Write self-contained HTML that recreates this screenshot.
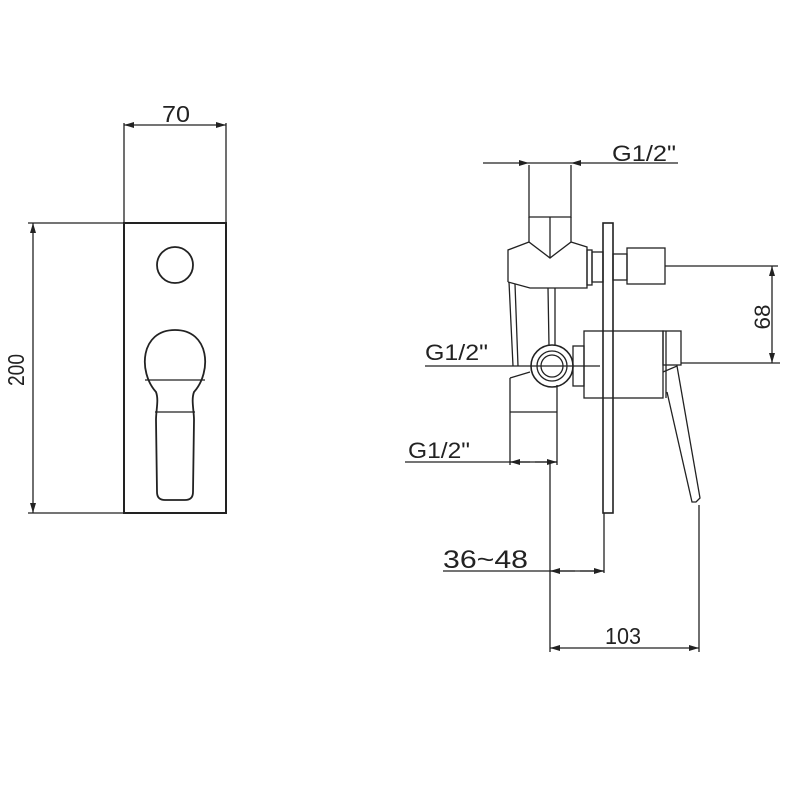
<!DOCTYPE html>
<html><head><meta charset="utf-8"><style>
html,body{margin:0;padding:0;background:#fff;}
svg{display:block;}
text{font-family:"Liberation Sans",sans-serif;fill:#222;}
</style></head><body>
<svg width="800" height="800" viewBox="0 0 800 800" xmlns="http://www.w3.org/2000/svg">
<defs>
<marker id="a" viewBox="0 0 10 6" refX="10" refY="3" markerWidth="14" markerHeight="6" markerUnits="userSpaceOnUse" orient="auto-start-reverse"><path d="M0,0 L10,3 L0,6 z" fill="#222"/></marker>
</defs>
<g stroke="#222" fill="none" stroke-width="1.3">
<rect x="124" y="223" width="102" height="290" stroke-width="2"/>
<circle cx="175" cy="265" r="18" stroke-width="1.8"/>
<path d="M156,392 C138,372 140,330 175,330 C210,330 212,372 194,392 C191,400 194,410 194,420 L193,492 Q193,500 185,500 L165,500 Q157,500 157,492 L156,420 C156,410 159,400 156,392 Z" stroke-width="1.8"/>
<line x1="145" y1="380" x2="205" y2="380"/>
<line x1="155" y1="412" x2="195" y2="412"/>
<line x1="124" y1="123" x2="124" y2="223"/>
<line x1="226" y1="123" x2="226" y2="223"/>
<line x1="124" y1="125" x2="226" y2="125" marker-start="url(#a)" marker-end="url(#a)"/>
<line x1="28" y1="223" x2="124" y2="223"/>
<line x1="28" y1="513" x2="124" y2="513"/>
<line x1="33" y1="223" x2="33" y2="513" marker-start="url(#a)" marker-end="url(#a)"/>

<path d="M529,165 L529,217 L571,217 L571,165"/>
<line x1="550" y1="217" x2="550" y2="258"/>
<path d="M529,217 L529,242 L550,258 L571,242 L571,217"/>
<path d="M508,282 L508,250 L529,242 M571,242 L587,247 L587,288 L530,288 L508,282"/>
<rect x="587" y="250" width="5" height="35"/>
<rect x="592" y="252" width="11" height="30"/>
<rect x="603" y="223" width="10" height="290" stroke-width="1.6"/>
<rect x="613" y="254" width="14" height="26"/>
<rect x="627" y="248" width="38" height="36"/>
<line x1="665" y1="266" x2="778" y2="266"/>
<path d="M509,282 L513,366 M515,284 L518,366"/>
<path d="M548,288 L549,346 M555,288 L555,346"/>
<circle cx="552" cy="366" r="21" stroke-width="1.6"/>
<circle cx="552" cy="366" r="15"/>
<circle cx="552" cy="366" r="11"/>
<rect x="573" y="346" width="11" height="40"/>
<path d="M510,378 L510,465 M557,385 L557,465 M510,378 L530,372"/>
<line x1="510" y1="412" x2="557" y2="412"/>
<rect x="584" y="331" width="79" height="67"/>
<rect x="663" y="331" width="18" height="34"/>
<line x1="666" y1="331" x2="666" y2="398"/>
<path d="M663,372 L677,366 L700,498 L696,502 L692,502 L667,392"/>
<line x1="483" y1="163" x2="529" y2="163" marker-end="url(#a)"/>
<line x1="529" y1="163" x2="571" y2="163"/>
<line x1="678" y1="163" x2="571" y2="163" marker-end="url(#a)"/>
<line x1="425" y1="366" x2="600" y2="366"/>
<line x1="681" y1="363" x2="780" y2="363"/>
<line x1="772" y1="266" x2="772" y2="363" marker-start="url(#a)" marker-end="url(#a)"/>
<line x1="405" y1="462" x2="557" y2="462"/>
<line x1="510" y1="462" x2="530" y2="462" marker-start="url(#a)"/>
<line x1="535" y1="462" x2="557" y2="462" marker-end="url(#a)"/>
<line x1="550" y1="462" x2="550" y2="652"/>
<line x1="604" y1="513" x2="604" y2="573"/>
<line x1="443" y1="571" x2="604" y2="571"/>
<line x1="550" y1="571" x2="575" y2="571" marker-start="url(#a)"/>
<line x1="580" y1="571" x2="604" y2="571" marker-end="url(#a)"/>
<line x1="699" y1="505" x2="699" y2="652"/>
<line x1="550" y1="648" x2="699" y2="648" marker-start="url(#a)" marker-end="url(#a)"/>
</g>
<text x="162" y="122" font-size="23" textLength="28" lengthAdjust="spacingAndGlyphs">70</text>
<text transform="translate(24,370) rotate(-90)" font-size="23" text-anchor="middle" textLength="32" lengthAdjust="spacingAndGlyphs">200</text>
<text x="612" y="161" font-size="22" textLength="64" lengthAdjust="spacingAndGlyphs">G1/2"</text>
<text transform="translate(770,317) rotate(-90)" font-size="22" text-anchor="middle" textLength="25" lengthAdjust="spacingAndGlyphs">68</text>
<text x="425" y="360" font-size="22" textLength="63" lengthAdjust="spacingAndGlyphs">G1/2"</text>
<text x="408" y="458" font-size="22" textLength="62" lengthAdjust="spacingAndGlyphs">G1/2"</text>
<text x="443" y="568" font-size="25" textLength="85" lengthAdjust="spacingAndGlyphs">36~48</text>
<text x="605" y="644" font-size="23" textLength="36" lengthAdjust="spacingAndGlyphs">103</text>
</svg>
</body></html>
